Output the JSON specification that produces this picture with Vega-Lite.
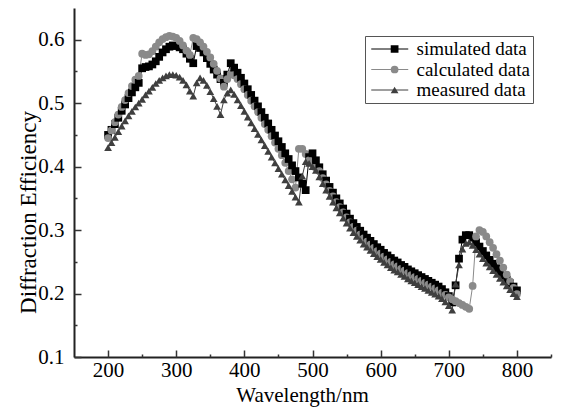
{
  "$schema": "https://vega.github.io/schema/vega-lite/v6.json",
  "width": 477,
  "height": 349,
  "autosize": {"type": "none"},
  "padding": {"left": 74, "top": 8, "right": 10, "bottom": 52},
  "background": "white",
  "config": {
    "view": {"stroke": null},
    "font": "Liberation Serif",
    "legend": {"labelFont": "Liberation Serif", "labelFontSize": 19, "labelColor": "black"}
  },
  "data": {"values": [
    {"w":200,"s":0.450,"c":0.445,"m":0.430},
    {"w":205,"s":0.458,"c":0.457,"m":0.438},
    {"w":210,"s":0.467,"c":0.470,"m":0.446},
    {"w":215,"s":0.477,"c":0.482,"m":0.455},
    {"w":220,"s":0.488,"c":0.494,"m":0.464},
    {"w":225,"s":0.498,"c":0.505,"m":0.472},
    {"w":230,"s":0.508,"c":0.516,"m":0.480},
    {"w":235,"s":0.517,"c":0.527,"m":0.487},
    {"w":240,"s":0.525,"c":0.537,"m":0.494},
    {"w":245,"s":0.532,"c":0.543,"m":0.500},
    {"w":250,"s":0.555,"c":0.578,"m":0.506},
    {"w":255,"s":0.557,"c":0.576,"m":0.513},
    {"w":260,"s":0.558,"c":0.577,"m":0.519},
    {"w":265,"s":0.561,"c":0.582,"m":0.525},
    {"w":270,"s":0.566,"c":0.589,"m":0.531},
    {"w":275,"s":0.573,"c":0.596,"m":0.536},
    {"w":280,"s":0.580,"c":0.601,"m":0.540},
    {"w":285,"s":0.585,"c":0.604,"m":0.543},
    {"w":290,"s":0.589,"c":0.606,"m":0.545},
    {"w":295,"s":0.591,"c":0.605,"m":0.545},
    {"w":300,"s":0.590,"c":0.603,"m":0.544},
    {"w":305,"s":0.588,"c":0.598,"m":0.541},
    {"w":310,"s":0.585,"c":0.591,"m":0.536},
    {"w":315,"s":0.578,"c":0.583,"m":0.529},
    {"w":320,"s":0.570,"c":0.576,"m":0.519},
    {"w":325,"s":0.563,"c":0.603,"m":0.511},
    {"w":330,"s":0.590,"c":0.601,"m":0.532},
    {"w":335,"s":0.587,"c":0.596,"m":0.540},
    {"w":340,"s":0.580,"c":0.589,"m":0.536},
    {"w":345,"s":0.571,"c":0.581,"m":0.528},
    {"w":350,"s":0.562,"c":0.572,"m":0.518},
    {"w":355,"s":0.553,"c":0.562,"m":0.507},
    {"w":360,"s":0.545,"c":0.551,"m":0.495},
    {"w":365,"s":0.538,"c":0.539,"m":0.482},
    {"w":370,"s":0.532,"c":0.526,"m":0.505},
    {"w":375,"s":0.545,"c":0.538,"m":0.516},
    {"w":380,"s":0.563,"c":0.546,"m":0.521},
    {"w":385,"s":0.556,"c":0.544,"m":0.514},
    {"w":390,"s":0.548,"c":0.538,"m":0.505},
    {"w":395,"s":0.540,"c":0.530,"m":0.496},
    {"w":400,"s":0.531,"c":0.522,"m":0.487},
    {"w":405,"s":0.522,"c":0.513,"m":0.478},
    {"w":410,"s":0.513,"c":0.504,"m":0.469},
    {"w":415,"s":0.504,"c":0.495,"m":0.460},
    {"w":420,"s":0.495,"c":0.486,"m":0.451},
    {"w":425,"s":0.486,"c":0.477,"m":0.442},
    {"w":430,"s":0.477,"c":0.467,"m":0.433},
    {"w":435,"s":0.468,"c":0.458,"m":0.424},
    {"w":440,"s":0.458,"c":0.448,"m":0.415},
    {"w":445,"s":0.449,"c":0.438,"m":0.406},
    {"w":450,"s":0.440,"c":0.428,"m":0.397},
    {"w":455,"s":0.431,"c":0.418,"m":0.388},
    {"w":460,"s":0.421,"c":0.406,"m":0.379},
    {"w":465,"s":0.412,"c":0.393,"m":0.370},
    {"w":470,"s":0.402,"c":0.380,"m":0.361},
    {"w":475,"s":0.393,"c":0.367,"m":0.352},
    {"w":480,"s":0.383,"c":0.428,"m":0.344},
    {"w":485,"s":0.373,"c":0.428,"m":0.385},
    {"w":490,"s":0.363,"c":0.420,"m":0.408},
    {"w":495,"s":0.415,"c":0.410,"m":0.405},
    {"w":500,"s":0.421,"c":0.405,"m":0.400},
    {"w":505,"s":0.410,"c":0.398,"m":0.394},
    {"w":510,"s":0.399,"c":0.393,"m":0.384},
    {"w":515,"s":0.388,"c":0.382,"m":0.373},
    {"w":520,"s":0.378,"c":0.372,"m":0.363},
    {"w":525,"s":0.368,"c":0.362,"m":0.353},
    {"w":530,"s":0.359,"c":0.353,"m":0.344},
    {"w":535,"s":0.350,"c":0.344,"m":0.335},
    {"w":540,"s":0.342,"c":0.336,"m":0.327},
    {"w":545,"s":0.334,"c":0.328,"m":0.319},
    {"w":550,"s":0.326,"c":0.320,"m":0.311},
    {"w":555,"s":0.318,"c":0.312,"m":0.303},
    {"w":560,"s":0.311,"c":0.305,"m":0.296},
    {"w":565,"s":0.305,"c":0.299,"m":0.290},
    {"w":570,"s":0.299,"c":0.293,"m":0.284},
    {"w":575,"s":0.293,"c":0.287,"m":0.278},
    {"w":580,"s":0.288,"c":0.282,"m":0.273},
    {"w":585,"s":0.283,"c":0.277,"m":0.268},
    {"w":590,"s":0.278,"c":0.272,"m":0.263},
    {"w":595,"s":0.273,"c":0.267,"m":0.258},
    {"w":600,"s":0.269,"c":0.263,"m":0.254},
    {"w":605,"s":0.264,"c":0.258,"m":0.249},
    {"w":610,"s":0.260,"c":0.254,"m":0.245},
    {"w":615,"s":0.256,"c":0.250,"m":0.241},
    {"w":620,"s":0.252,"c":0.246,"m":0.237},
    {"w":625,"s":0.249,"c":0.243,"m":0.234},
    {"w":630,"s":0.245,"c":0.239,"m":0.230},
    {"w":635,"s":0.242,"c":0.236,"m":0.227},
    {"w":640,"s":0.238,"c":0.232,"m":0.223},
    {"w":645,"s":0.235,"c":0.229,"m":0.220},
    {"w":650,"s":0.232,"c":0.226,"m":0.217},
    {"w":655,"s":0.229,"c":0.223,"m":0.214},
    {"w":660,"s":0.226,"c":0.220,"m":0.211},
    {"w":665,"s":0.223,"c":0.217,"m":0.208},
    {"w":670,"s":0.220,"c":0.214,"m":0.205},
    {"w":675,"s":0.217,"c":0.211,"m":0.202},
    {"w":680,"s":0.214,"c":0.208,"m":0.199},
    {"w":685,"s":0.211,"c":0.205,"m":0.196},
    {"w":690,"s":0.207,"c":0.201,"m":0.192},
    {"w":695,"s":0.202,"c":0.198,"m":0.187},
    {"w":700,"s":0.196,"c":0.194,"m":0.181},
    {"w":705,"s":0.186,"c":0.191,"m":0.174},
    {"w":710,"s":0.213,"c":0.188,"m":0.215},
    {"w":715,"s":0.255,"c":0.185,"m":0.245},
    {"w":720,"s":0.285,"c":0.182,"m":0.270},
    {"w":725,"s":0.292,"c":0.179,"m":0.279},
    {"w":730,"s":0.292,"c":0.176,"m":0.281},
    {"w":735,"s":0.288,"c":0.212,"m":0.276},
    {"w":740,"s":0.281,"c":0.290,"m":0.269},
    {"w":745,"s":0.274,"c":0.300,"m":0.262},
    {"w":750,"s":0.267,"c":0.297,"m":0.255},
    {"w":755,"s":0.260,"c":0.290,"m":0.248},
    {"w":760,"s":0.253,"c":0.281,"m":0.242},
    {"w":765,"s":0.247,"c":0.272,"m":0.236},
    {"w":770,"s":0.240,"c":0.262,"m":0.230},
    {"w":775,"s":0.234,"c":0.252,"m":0.224},
    {"w":780,"s":0.228,"c":0.241,"m":0.218},
    {"w":785,"s":0.222,"c":0.230,"m":0.212},
    {"w":790,"s":0.216,"c":0.219,"m":0.206},
    {"w":795,"s":0.211,"c":0.209,"m":0.200},
    {"w":800,"s":0.205,"c":0.199,"m":0.195}
  ]},
  "transform": [{"fold": ["s", "c", "m"], "as": ["k", "v"]}],
  "resolve": {"axis": {"x": "independent", "y": "independent"}},
  "layer": [
    {
      "mark": {"type": "line", "strokeWidth": 1},
      "encoding": {
        "x": {
          "field": "w", "type": "quantitative",
          "scale": {"domain": [150, 850], "nice": false, "zero": false},
          "axis": {
            "orient": "bottom",
            "title": "Wavelength/nm",
            "values": [200, 300, 400, 500, 600, 700, 800],
            "ticks": false, "grid": false,
            "domainColor": "#222222", "domainWidth": 2,
            "labelFont": "Liberation Serif", "labelFontSize": 21, "labelColor": "black",
            "labelPadding": 2, "labelFlush": false, "labelOverlap": false,
            "titleFont": "Liberation Serif", "titleFontSize": 21, "titleFontWeight": "normal", "titleColor": "black",
            "titlePadding": 4, "titleX": 228
          }
        },
        "y": {
          "field": "v", "type": "quantitative",
          "scale": {"domain": [0.1, 0.65], "nice": false, "zero": false},
          "axis": {
            "orient": "left",
            "title": "Diffraction Efficiency",
            "values": [0.1, 0.2, 0.3, 0.4, 0.5, 0.6],
            "format": ".1f",
            "ticks": false, "grid": false,
            "domainColor": "#222222", "domainWidth": 2,
            "labelFont": "Liberation Serif", "labelFontSize": 21, "labelColor": "black",
            "labelPadding": 10, "labelFlush": false, "labelOverlap": false,
            "titleFont": "Liberation Serif", "titleFontSize": 23, "titleFontWeight": "normal", "titleColor": "black",
            "titlePadding": -3, "titleY": 204
          }
        },
        "stroke": {
          "field": "k", "type": "nominal", "sort": ["s", "c", "m"],
          "scale": {"range": ["#000000", "#8a8a8a", "#3f3f3f"]},
          "legend": {
            "title": null,
            "orient": "none", "legendX": 291, "legendY": 28,
            "labelExpr": "datum.value === 's' ? 'simulated data' : datum.value === 'c' ? 'calculated data' : 'measured data'",
            "labelFont": "Liberation Serif", "labelFontSize": 19, "labelColor": "black",
            "strokeColor": "#555555", "padding": 3, "clipHeight": 20,
            "symbolType": "M-2,0H2", "symbolSize": 342, "symbolStrokeWidth": 1,
            "symbolOffset": 11.75, "labelOffset": 16.75, "rowPadding": 0.5
          }
        }
      }
    },
    {
      "transform": [{"filter": "datum.k !== 'm'"}],
      "mark": {"type": "point", "filled": true, "opacity": 1, "size": 60},
      "encoding": {
        "x": {
          "field": "w", "type": "quantitative",
          "axis": {
            "orient": "bottom", "title": null, "labels": false, "domain": false, "grid": false,
            "values": [200, 300, 400, 500, 600, 700, 800],
            "offset": -7, "tickSize": 7, "tickColor": "#333333", "tickWidth": 1.5
          }
        },
        "y": {
          "field": "v", "type": "quantitative",
          "axis": {
            "orient": "left", "title": null, "labels": false, "domain": false, "grid": false,
            "values": [0.1, 0.2, 0.3, 0.4, 0.5, 0.6],
            "offset": -7, "tickSize": 7, "tickColor": "#333333", "tickWidth": 1.5
          }
        },
        "fill": {
          "field": "k", "type": "nominal",
          "scale": {"domain": ["s", "c", "m"], "range": ["#000000", "#8a8a8a", "#3f3f3f"]},
          "legend": {
            "title": null,
            "orient": "none", "legendX": 291, "legendY": 28,
            "labelExpr": "''",
            "padding": 3, "clipHeight": 20, "symbolSize": 60, "symbolOffset": 17.1, "labelOffset": 16.75, "rowPadding": 0.5
          }
        },
        "shape": {
          "field": "k", "type": "nominal",
          "scale": {"domain": ["s", "c", "m"], "range": ["square", "circle", "triangle-up"]},
          "legend": {
            "title": null,
            "orient": "none", "legendX": 291, "legendY": 28,
            "labelExpr": "''",
            "padding": 3, "clipHeight": 20, "symbolSize": 60, "symbolOffset": 17.1, "labelOffset": 16.75, "rowPadding": 0.5
          }
        }
      }
    },
    {
      "transform": [{"filter": "datum.k === 'm'"}],
      "mark": {"type": "point", "filled": true, "opacity": 1, "size": 60},
      "encoding": {
        "x": {
          "field": "w", "type": "quantitative",
          "axis": {
            "orient": "bottom", "title": null, "labels": false, "domain": false, "grid": false,
            "values": [250, 350, 450, 550, 650, 750, 850],
            "offset": -3, "tickSize": 3, "tickColor": "#333333", "tickWidth": 1.5
          }
        },
        "y": {
          "field": "v", "type": "quantitative",
          "axis": {
            "orient": "left", "title": null, "labels": false, "domain": false, "grid": false,
            "values": [0.15, 0.25, 0.35, 0.45, 0.55],
            "offset": -3, "tickSize": 3, "tickColor": "#333333", "tickWidth": 1.5
          }
        },
        "fill": {
          "field": "k", "type": "nominal",
          "scale": {"domain": ["s", "c", "m"], "range": ["#000000", "#8a8a8a", "#3f3f3f"]},
          "legend": {
            "title": null,
            "orient": "none", "legendX": 291, "legendY": 28,
            "labelExpr": "''",
            "padding": 3, "clipHeight": 20, "symbolSize": 60, "symbolOffset": 17.1, "labelOffset": 16.75, "rowPadding": 0.5
          }
        },
        "shape": {
          "field": "k", "type": "nominal",
          "scale": {"domain": ["s", "c", "m"], "range": ["square", "circle", "triangle-up"]},
          "legend": {
            "title": null,
            "orient": "none", "legendX": 291, "legendY": 28,
            "labelExpr": "''",
            "padding": 3, "clipHeight": 20, "symbolSize": 60, "symbolOffset": 17.1, "labelOffset": 16.75, "rowPadding": 0.5
          }
        }
      }
    }
  ]
}
